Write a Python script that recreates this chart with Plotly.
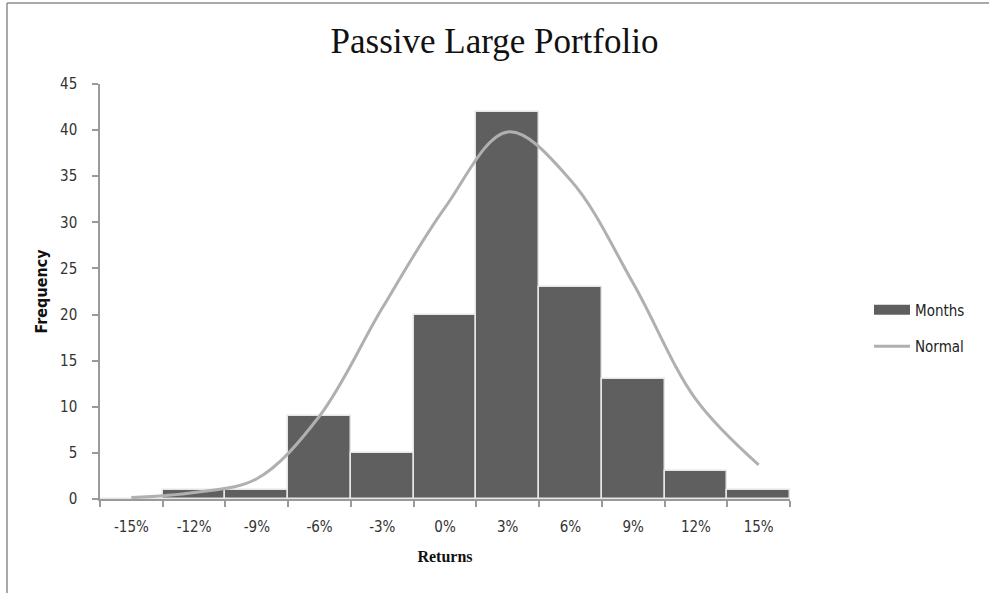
import plotly.graph_objects as go

# Return buckets and counts of months falling in each bucket
categories = ["-15%", "-12%", "-9%", "-6%", "-3%", "0%", "3%", "6%", "9%", "12%", "15%"]
months = [0, 1, 1, 9, 5, 20, 42, 23, 13, 3, 1]
# Fitted normal frequencies at each bucket
normal = [0.15, 0.7, 2.2, 9.0, 20.7, 31.6, 39.8, 34.6, 23.4, 10.8, 3.7]
y_ticks = [0, 5, 10, 15, 20, 25, 30, 35, 40, 45]

W, H = 989, 593
L, R, T, B = 100, 199, 84, 94
plot_w = W - L - R
plot_h = H - T - B

BAR_COLOR = "#5f5f5f"
LINE_COLOR = "#b0b0b0"
AXIS_COLOR = "#9a9a9a"
SANS = "DejaVu Sans Condensed, Liberation Sans Narrow, DejaVu Sans"


def px_x(p):
    return (p - L) / plot_w


def px_y(p):
    return (H - B - p) / plot_h


fig = go.Figure()
fig.add_trace(go.Bar(
    x=categories, y=months, name="Months", showlegend=False,
    marker=dict(color=BAR_COLOR, line=dict(color="#e6e6e6", width=1.5)),
))
# legend key for the bars, drawn as a wide flat swatch
fig.add_trace(go.Scatter(
    x=[None], y=[None], name="Months", mode="lines", legendgroup="m",
    line=dict(color=BAR_COLOR, width=10),
))
fig.add_trace(go.Scatter(
    x=categories, y=normal, name="Normal", mode="lines", legendgroup="n",
    line=dict(color=LINE_COLOR, width=3, shape="spline", smoothing=1.0),
))

tick_font = dict(family=SANS, size=15, color="#333333")

fig.update_layout(
    width=W, height=H,
    margin=dict(l=L, r=R, t=T, b=B),
    paper_bgcolor="white", plot_bgcolor="white",
    bargap=0,
    showlegend=True,
    title=dict(text="Passive Large Portfolio", x=0.5, xanchor="center",
               y=1 - 41 / H, yanchor="middle",
               font=dict(family="Liberation Serif", size=35, color="#111111")),
    legend=dict(x=px_x(869), y=px_y(328), xanchor="left", yanchor="middle",
                font=dict(family=SANS, size=15, color="#222222"),
                tracegroupgap=14, itemwidth=36, bgcolor="rgba(0,0,0,0)"),
    xaxis=dict(
        type="category", range=[-0.5, 10.5],
        showline=True, linecolor=AXIS_COLOR, linewidth=1.5,
        ticks="outside", tickson="boundaries", ticklen=6, tickcolor=AXIS_COLOR,
        tickwidth=1.5, showgrid=False, tickfont=tick_font, ticklabelstandoff=13,
        title=dict(text="<b>Returns</b>", standoff=16,
                   font=dict(family="Liberation Serif", size=16, color="#111111")),
    ),
    yaxis=dict(
        range=[0, 45], tickvals=y_ticks, showline=True, linecolor=AXIS_COLOR,
        linewidth=1.5, ticks="outside", ticklen=6, tickcolor=AXIS_COLOR,
        tickwidth=1.5, showgrid=False, zeroline=False, tickfont=tick_font,
        ticklabelstandoff=12,
        title=dict(text="<b>Frequency</b>", standoff=8,
                   font=dict(family=SANS, size=16, color="#111111")),
    ),
    shapes=[
        dict(type="line", xref="paper", yref="paper",
             x0=px_x(7), x1=px_x(W + 5), y0=px_y(3), y1=px_y(3),
             line=dict(color="#8c8c8c", width=1.5)),
        dict(type="line", xref="paper", yref="paper",
             x0=px_x(7), x1=px_x(7), y0=px_y(3), y1=px_y(H + 5),
             line=dict(color="#8c8c8c", width=1.5)),
    ],
)

fig.write_html("out.html")
